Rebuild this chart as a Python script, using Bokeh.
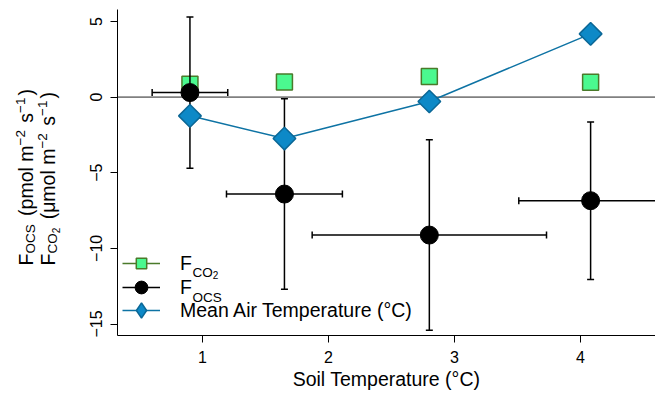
import math
from bokeh.plotting import figure
from bokeh.layouts import row
from bokeh.models import (ColumnDataSource, Whisker, TeeHead, Span, Legend,
                          LegendItem, Label, Range1d, FixedTicker)
from bokeh.embed import file_html
from bokeh.resources import INLINE

# ---- data ----
soil_temp = [0.90, 1.65, 2.80, 4.08]
soil_temp_err = [0.30, 0.46, 0.93, 0.57]
f_co2 = [0.85, 0.99, 1.36, 0.98]
f_ocs = [0.30, -6.41, -9.12, -6.85]
f_ocs_err = [5.0, 6.3, 6.3, 5.2]
air_temp = [-1.24, -2.74, -0.29, 4.18]
x_ticks = [1, 2, 3, 4]
y_ticks = [-15, -10, -5, 0, 5]
x_title = "Soil Temperature (°C)"
legend_labels = ["F", "F", "Mean Air Temperature (°C)"]

FONT = "Liberation Sans"
SQ_FILL, SQ_LINE = "#4BF98F", "#4A7A2A"
DIA_FILL, DIA_LINE, DIA_PATH = "#0D89C7", "#0B6796", "#0E73A4"
NAN = float("nan")

src = ColumnDataSource(dict(
    x=soil_temp,
    xl=[a - b for a, b in zip(soil_temp, soil_temp_err)],
    xu=[a + b for a, b in zip(soil_temp, soil_temp_err)],
    co2=f_co2, ocs=f_ocs,
    yl=[a - b for a, b in zip(f_ocs, f_ocs_err)],
    yu=[a + b for a, b in zip(f_ocs, f_ocs_err)],
    air=air_temp,
))

LAB_W = 70
p = figure(width=655 - LAB_W, height=394, output_backend="svg",
           toolbar_location=None,
           x_range=Range1d(0.325, 4.595), y_range=Range1d(-15.76, 5.79),
           min_border_left=117 - LAB_W, min_border_right=0, min_border_top=9,
           min_border_bottom=59)
p.outline_line_color = None
p.xgrid.visible = False
p.ygrid.visible = False

for ax in (p.xaxis[0], p.yaxis[0]):
    ax.axis_line_color = "black"
    ax.axis_line_width = 1
    ax.major_tick_line_color = "black"
    ax.major_tick_out = 7
    ax.major_tick_in = 0
    ax.minor_tick_line_color = None
    ax.major_label_text_font = FONT
    ax.major_label_text_font_size = "16px"
    ax.major_label_text_color = "black"

p.xaxis.ticker = FixedTicker(ticks=x_ticks)
p.yaxis.ticker = FixedTicker(ticks=y_ticks)
p.yaxis.major_label_orientation = "vertical"
p.yaxis.major_label_standoff = 8
p.xaxis.major_label_standoff = 8
p.xaxis.axis_label = x_title
p.xaxis.axis_label_text_font = FONT
p.xaxis.axis_label_text_font_size = "19.5px"
p.xaxis.axis_label_text_font_style = "normal"
p.xaxis.axis_label_text_color = "black"
p.xaxis.axis_label_standoff = 2

# zero line
p.add_layout(Span(location=0, dimension="width", line_color="#808080",
                  line_width=1.8, level="underlay"))

# squares: F_CO2
sq = p.scatter("x", "co2", source=src, marker="square", size=16,
               fill_color=SQ_FILL, line_color=SQ_LINE, line_width=1.5,
               level="underlay")


def head():
    return TeeHead(size=7, line_width=1.5, line_color="black")


p.add_layout(Whisker(source=src, base="x", lower="yl", upper="yu",
                     dimension="height", line_color="black", line_width=1.5,
                     upper_head=head(), lower_head=head(), level="underlay"))
p.add_layout(Whisker(source=src, base="ocs", lower="xl", upper="xu",
                     dimension="width", line_color="black", line_width=1.5,
                     upper_head=head(), lower_head=head(), level="underlay"))

circ = p.scatter("x", "ocs", source=src, marker="circle", size=18,
                 fill_color="black", line_color="black")

air_line = p.line("x", "air", source=src, line_color=DIA_PATH, line_width=1.5)
dia = p.scatter("x", "air", source=src, marker="square", size=16,
                angle=math.pi / 4, fill_color=DIA_FILL, line_color=DIA_LINE,
                line_width=1.5)

# legend-only renderers (a single NaN point: nothing drawn in the plot)
dummy = ColumnDataSource(dict(x=[NAN], y=[NAN]))
lg_co2_line = p.line("x", "y", source=dummy, line_color=SQ_LINE, line_width=1.5)
lg_co2_mk = p.scatter("x", "y", source=dummy, marker="square",
                      fill_color=SQ_FILL, line_color=SQ_LINE, line_width=1.5)
lg_ocs_line = p.line("x", "y", source=dummy, line_color="black", line_width=1.5)
lg_dia = p.scatter("x", "y", source=dummy, marker="diamond",
                   fill_color=DIA_FILL, line_color=DIA_LINE, line_width=1.5)

# one legend per row (row centres measured from the frame bottom)
rows = [(legend_labels[0], [lg_co2_line, lg_co2_mk], 72, 26),
        (legend_labels[1], [lg_ocs_line, circ], 48, 32),
        (legend_labels[2], [air_line, lg_dia], 25, 40)]
for text, rends, yc, gh in rows:
    p.add_layout(Legend(
        items=[LegendItem(label=text, renderers=rends)],
        location=(5, yc - gh / 2), glyph_height=gh, glyph_width=38,
        label_height=gh, padding=0, margin=0, label_standoff=20,
        label_text_font=FONT, label_text_font_size="19.5px",
        label_text_color="black",
        border_line_color=None, background_fill_alpha=0), "center")

# ---- text helpers for sub/superscripts ----
W = {'F': 611, 'O': 778, 'C': 722, 'S': 667, ' ': 278, '(': 333, ')': 333,
     'p': 556, 'm': 833, 'o': 556, 'l': 222, 's': 500, '−': 584, '2': 556,
     '1': 556, 'μ': 576}


def tw(t, size):
    return sum(W.get(c, 556) for c in t) * size / 1000.0


def lab(fig, x, y, t, size, angle=0.0):
    fig.add_layout(Label(x=x, y=y, x_units="screen", y_units="screen", text=t,
                         angle=angle, text_font=FONT,
                         text_font_size=f"{size}px", text_color="black",
                         text_baseline="alphabetic", text_align="left"))


M, S, SS = 19.5, 13.5, 10

# legend subscripts (screen units relative to the frame)
fx = 5 + 38 + 20 + tw("F", M)
lab(p, fx, 63, "CO", S)
lab(p, fx + tw("CO", S), 61, "2", SS)
lab(p, fx, 38.5, "OCS", S)

# ---- y-axis title in a narrow side figure (frame aligned with the plot's) ----
q = figure(width=LAB_W, height=394, output_backend="svg", toolbar_location=None,
           x_range=Range1d(0, LAB_W), y_range=Range1d(0, 394),
           x_axis_location=None, y_axis_location=None, min_border=0)
q.outline_line_color = None
q.xgrid.visible = False
q.ygrid.visible = False


def rotated(pieces, base_x, start_y):
    y = start_y
    for t, size, shift, gap in pieces:
        stripped = t.lstrip(" ")
        y += tw(t[:len(t) - len(stripped)], size)
        lab(q, base_x + shift, y, stripped, size, angle=math.pi / 2)
        y += tw(stripped, size) + gap


line1 = [("F", M, 0, 0), ("OCS", S, 5, 3), (" (pmol m", M, 0, 0),
         ("−2", S, -5, 2), (" s", M, 0, 0), ("−1", S, -5, 2), (")", M, 0, 0)]
line2 = [("F", M, 0, 0), ("CO", S, 5, 0), ("2", SS, 8, 3), (" (", M, 0, 0),
         ("μ", M, 0, 0), ("mol m", M, 0, 0), ("−2", S, -5, 2),
         (" s", M, 0, 0), ("−1", S, -5, 2), (")", M, 0, 0)]
rotated(line1, 25, 70)
rotated(line2, 47, 70)

layout = row(q, p)
open("out.html", "w").write(file_html(layout, INLINE))
